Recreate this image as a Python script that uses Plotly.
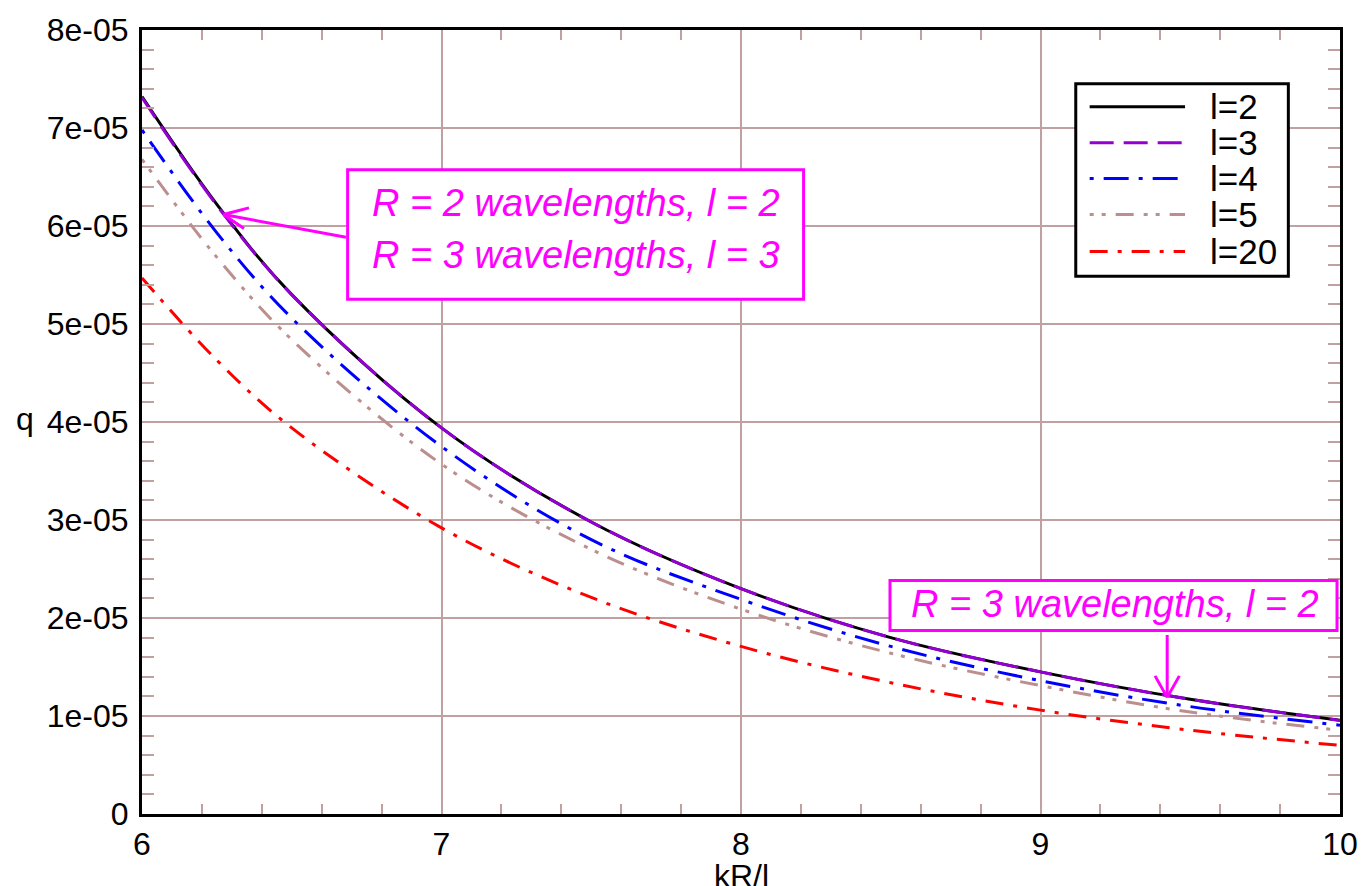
import plotly.graph_objects as go

# ---- data ----
kR_over_l = [6.0, 6.25, 6.5, 7.0, 7.5, 8.0, 8.5, 9.0, 9.5, 10.0]
q_l2 = [7.32e-5, 6.22e-5, 5.30e-5, 3.94e-5, 2.98e-5, 2.30e-5, 1.80e-5, 1.45e-5, 1.17e-5, 0.957e-5]
q_l3 = [7.31e-5, 6.21e-5, 5.30e-5, 3.94e-5, 2.98e-5, 2.30e-5, 1.80e-5, 1.45e-5, 1.17e-5, 0.955e-5]
q_l4 = [6.98e-5, 5.93e-5, 5.06e-5, 3.75e-5, 2.80e-5, 2.19e-5, 1.71e-5, 1.36e-5, 1.096e-5, 0.906e-5]
q_l5 = [6.68e-5, 5.68e-5, 4.84e-5, 3.57e-5, 2.70e-5, 2.09e-5, 1.64e-5, 1.31e-5, 1.04e-5, 0.855e-5]
q_l20 = [5.47e-5, 4.63e-5, 3.94e-5, 2.92e-5, 2.21e-5, 1.71e-5, 1.34e-5, 1.06e-5, 0.855e-5, 0.70e-5]

series_names = ["l=2", "l=3", "l=4", "l=5", "l=20"]
series_values = [q_l2, q_l3, q_l4, q_l5, q_l20]

x_tickvals = [6, 7, 8, 9, 10]
x_ticktext = ["6", "7", "8", "9", "10"]
y_tickvals = [0, 1e-5, 2e-5, 3e-5, 4e-5, 5e-5, 6e-5, 7e-5, 8e-5]
y_ticktext = ["0", "1e-05", "2e-05", "3e-05", "4e-05", "5e-05", "6e-05", "7e-05", "8e-05"]

# ---- styles ----
colors = ["#000000", "#9400D3", "#0000FF", "#BC8F8F", "#FF0000"]
dashes = ["solid", "24px,10px", "4px,10px,25px,10px", "4px,8px,4px,10px,18px,10px", "18px,10px,4px,10px"]
GRID = "#c0a0a0"
MAG = "#FF00FF"
FONT = "Liberation Sans, Arial, Helvetica, sans-serif"
FS = 32
FS_LEG = 35
FS_NOTE = 38

fig = go.Figure()
for name, vals, c, d in zip(series_names, series_values, colors, dashes):
    fig.add_trace(go.Scatter(
        x=kR_over_l, y=vals, name=name, mode="lines",
        line=dict(color=c, width=3, dash=d, shape="spline", smoothing=1.0),
        showlegend=False,
    ))

W, H = 1370, 886
L, R, T, B = 142, 18, 28, 72

# helpers mapping reference-picture pixel positions (plot area 140..1346 x 28..814) to paper coords
REF_L, REF_R, REF_T, REF_B = 140, 1346, 28, 814

def px_x(px):
    return (px - REF_L) / (REF_R - REF_L)

def px_y(py):
    return (REF_B - py) / (REF_B - REF_T)

shapes = []
annotations = []

# custom legend (long line samples like the reference)
shapes.append(dict(type="rect", xref="paper", yref="paper",
                   x0=px_x(1080), x1=px_x(1294), y0=px_y(275), y1=px_y(82),
                   line=dict(color="black", width=3), fillcolor="white", layer="above"))
rows = [105, 141, 177, 213, 250]
for name, c, d, ry in zip(series_names, colors, dashes, rows):
    shapes.append(dict(type="line", xref="paper", yref="paper",
                       x0=px_x(1094), x1=px_x(1190), y0=px_y(ry), y1=px_y(ry),
                       line=dict(color=c, width=3, dash=d), layer="above"))
    annotations.append(dict(xref="paper", yref="paper", x=px_x(1213), y=px_y(ry),
                            xanchor="left", yanchor="middle", text=name, showarrow=False,
                            font=dict(family=FONT, size=FS_LEG, color="black")))

# annotation box 1
shapes.append(dict(type="rect", xref="paper", yref="paper",
                   x0=px_x(347), x1=px_x(806), y0=px_y(298), y1=px_y(168),
                   line=dict(color=MAG, width=3), fillcolor="white", layer="above"))
annotations.append(dict(xref="paper", yref="paper", x=px_x(577), y=px_y(201),
                        xanchor="center", yanchor="middle",
                        text="<i>R = 2 wavelengths, l = 2</i>", showarrow=False,
                        font=dict(family=FONT, size=FS_NOTE, color=MAG)))
annotations.append(dict(xref="paper", yref="paper", x=px_x(577), y=px_y(254),
                        xanchor="center", yanchor="middle",
                        text="<i>R = 3 wavelengths, l = 3</i>", showarrow=False,
                        font=dict(family=FONT, size=FS_NOTE, color=MAG)))
# arrow 1 (shaft + two barbs), tip on the l=2 curve
tip1 = (6.272, 6.117e-5)
for ax, ay in [(124, 23), (27, -7), (22, 15)]:
    annotations.append(dict(xref="x", yref="y", x=tip1[0], y=tip1[1], text="",
                            showarrow=True, arrowhead=0, arrowwidth=3, arrowcolor=MAG,
                            ax=ax, ay=ay, standoff=0, startstandoff=0))

# annotation box 2
shapes.append(dict(type="rect", xref="paper", yref="paper",
                   x0=px_x(893), x1=px_x(1343), y0=px_y(630), y1=px_y(580),
                   line=dict(color=MAG, width=3), fillcolor="white", layer="above"))
annotations.append(dict(xref="paper", yref="paper", x=px_x(1119), y=px_y(603),
                        xanchor="center", yanchor="middle",
                        text="<i>R = 3 wavelengths, l = 2</i>", showarrow=False,
                        font=dict(family=FONT, size=FS_NOTE, color=MAG)))
tip2 = (9.423, 1.19e-5)
for ax, ay in [(0, -64), (-13, -23), (13, -23)]:
    annotations.append(dict(xref="x", yref="y", x=tip2[0], y=tip2[1], text="",
                            showarrow=True, arrowhead=0, arrowwidth=3, arrowcolor=MAG,
                            ax=ax, ay=ay, standoff=0, startstandoff=0))

# axis titles
annotations.append(dict(xref="paper", yref="paper", x=px_x(22), y=px_y(418),
                        xanchor="center", yanchor="middle", text="q", showarrow=False,
                        font=dict(family=FONT, size=FS, color="black")))
annotations.append(dict(xref="paper", yref="paper", x=0.5, y=px_y(856),
                        xanchor="center", yanchor="top", text="kR/l", showarrow=False,
                        font=dict(family=FONT, size=FS, color="black")))

axis_common = dict(
    showline=True, linecolor="black", linewidth=3, mirror="allticks",
    showgrid=True, gridcolor=GRID, gridwidth=2,
    ticks="inside", ticklen=12, tickcolor=GRID, tickwidth=2,
    tickfont=dict(family=FONT, size=FS, color="black"),
    zeroline=False,
)

fig.update_layout(
    width=W, height=H,
    margin=dict(l=L, r=R, t=T, b=B),
    paper_bgcolor="white", plot_bgcolor="white",
    font=dict(family=FONT, size=FS, color="black"),
    xaxis=dict(range=[6, 10], tickmode="array", tickvals=x_tickvals, ticktext=x_ticktext,
               minor=dict(dtick=0.2, ticks="inside", ticklen=10, tickcolor=GRID, tickwidth=2,
                          showgrid=False),
               **axis_common),
    yaxis=dict(range=[0, 8e-5], tickmode="array", tickvals=y_tickvals, ticktext=y_ticktext,
               minor=dict(dtick=0.2e-5, ticks="inside", ticklen=12, tickcolor=GRID, tickwidth=2,
                          showgrid=False),
               ticklabelstandoff=4,
               **axis_common),
    shapes=shapes,
    annotations=annotations,
)

fig.write_html("out.html", config={"displayModeBar": False},
               post_script="document.body.style.margin='0px';document.body.style.overflow='hidden';")
